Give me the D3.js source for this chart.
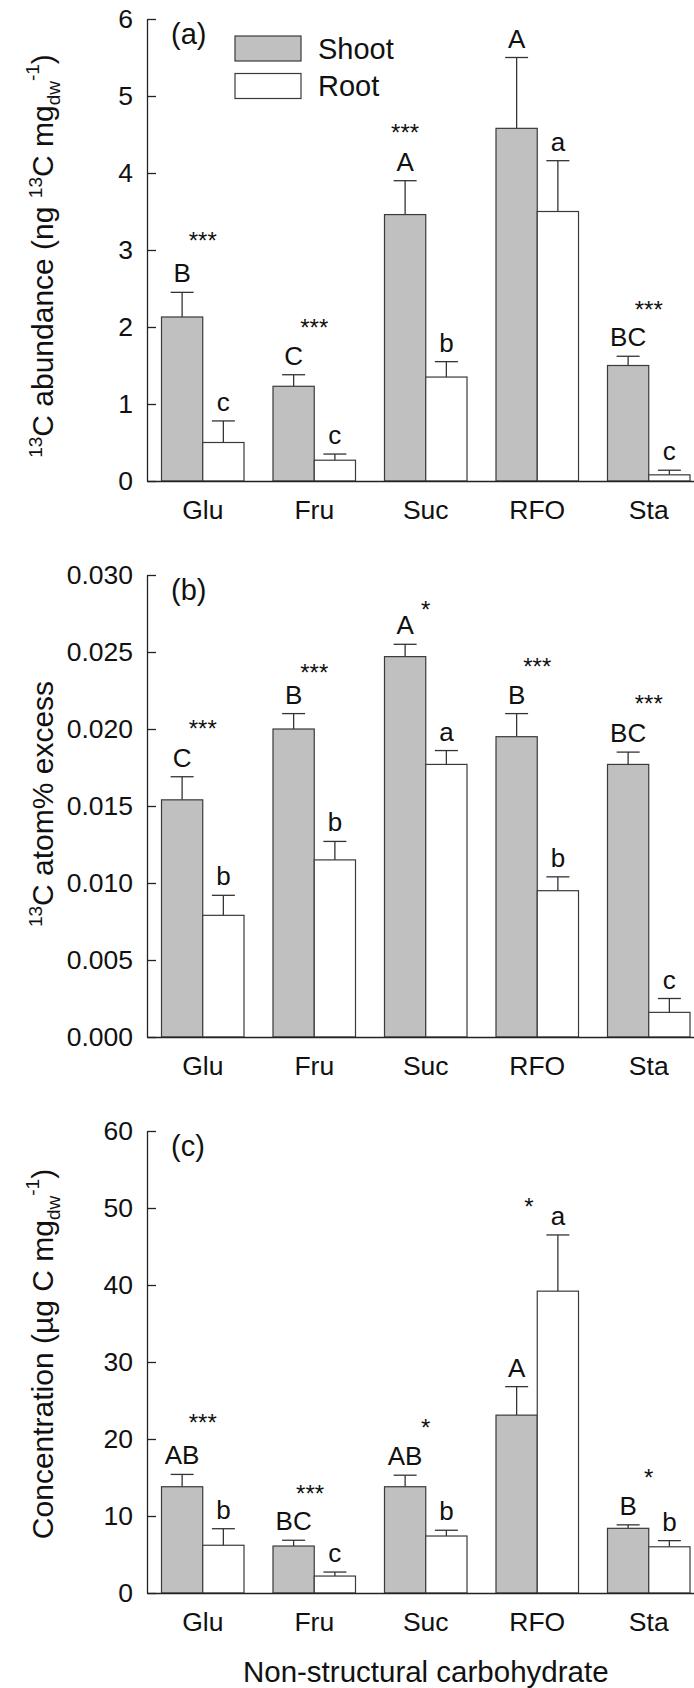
<!DOCTYPE html>
<html>
<head>
<meta charset="utf-8">
<script src="https://cdn.jsdelivr.net/npm/d3@7"></script>
<style>
  body { margin: 0; background: #fff; }
  svg { display: block; font-family: "Liberation Sans", Arial, sans-serif; }
</style>
</head>
<body>
<svg width="694" height="1688"></svg>
<script>
var categories = ["Glu", "Fru", "Suc", "RFO", "Sta"];
var series = ["Shoot", "Root"];

// (a) 13C abundance
var abundTicks = [0, 1, 2, 3, 4, 5, 6];
var abundShoot = [2.13, 1.23, 3.46, 4.58, 1.50];
var abundShootErr = [0.32, 0.15, 0.44, 0.92, 0.12];
var abundRoot = [0.50, 0.27, 1.35, 3.50, 0.08];
var abundRootErr = [0.28, 0.08, 0.20, 0.66, 0.06];
var abundShootLetters = ["B", "C", "A", "A", "BC"];
var abundRootLetters = ["c", "c", "b", "a", "c"];
var abundSig = ["***", "***", "***", "", "***"];
var abundSigY = [3.2, 2.06, 4.6, 0, 2.3];

// (b) 13C atom% excess
var excessTicks = [0, 0.005, 0.010, 0.015, 0.020, 0.025, 0.030];
var excessShoot = [0.0154, 0.0200, 0.0247, 0.0195, 0.0177];
var excessShootErr = [0.0015, 0.0010, 0.0008, 0.0015, 0.0008];
var excessRoot = [0.0079, 0.0115, 0.0177, 0.0095, 0.0016];
var excessRootErr = [0.0013, 0.0012, 0.0009, 0.0009, 0.0009];
var excessShootLetters = ["C", "B", "A", "B", "BC"];
var excessRootLetters = ["b", "b", "a", "b", "c"];
var excessSig = ["***", "***", "*", "***", "***"];
var excessSigY = [0.0204, 0.0240, 0.0281, 0.0244, 0.0220];

// (c) concentration
var concTicks = [0, 10, 20, 30, 40, 50, 60];
var concShoot = [13.8, 6.1, 13.8, 23.1, 8.4];
var concShootErr = [1.6, 0.75, 1.5, 3.7, 0.45];
var concRoot = [6.2, 2.2, 7.4, 39.2, 6.0];
var concRootErr = [2.15, 0.52, 0.75, 7.3, 0.8];
var concShootLetters = ["AB", "BC", "AB", "A", "B"];
var concRootLetters = ["b", "c", "b", "a", "b"];
var concSig = ["***", "***", "*", "*", "*"];
var concSigY = [22.8, 13.6, 22.2, 50.9, 15.7];

var svg = d3.select("svg"),
    left = 147,
    step = 111.5,
    panelH = 462;

var x = d3.scaleBand().domain(categories)
    .range([left, left + step * categories.length])
    .paddingInner(0.26).paddingOuter(0.13);
var xs = d3.scaleBand().domain(series).range([0, x.bandwidth()]);

function panel(opt) {
  var y = d3.scaleLinear().domain([0, d3.max(opt.ticks)])
      .range([opt.top + panelH, opt.top]);
  var g = svg.append("g");

  var rows = categories.map(function(c, i) {
    return {cat: c, i: i, vals: [
      {s: "Shoot", v: opt.shoot[i], e: opt.shootErr[i], l: opt.shootLetters[i]},
      {s: "Root", v: opt.root[i], e: opt.rootErr[i], l: opt.rootLetters[i]}
    ]};
  });

  var grp = g.selectAll(".grp").data(rows).enter().append("g")
      .attr("transform", function(d) { return "translate(" + x(d.cat) + ",0)"; });

  var bar = grp.selectAll(".bar").data(function(d) { return d.vals; }).enter().append("g");

  // error bars (upper half only)
  bar.append("line")
      .attr("x1", function(d) { return xs(d.s) + xs.bandwidth() / 2; })
      .attr("x2", function(d) { return xs(d.s) + xs.bandwidth() / 2; })
      .attr("y1", function(d) { return y(d.v); })
      .attr("y2", function(d) { return y(d.v + d.e); })
      .attr("stroke", "#333").attr("stroke-width", 1.3);
  bar.append("line")
      .attr("x1", function(d) { return xs(d.s) + xs.bandwidth() / 2 - 11.5; })
      .attr("x2", function(d) { return xs(d.s) + xs.bandwidth() / 2 + 11.5; })
      .attr("y1", function(d) { return y(d.v + d.e); })
      .attr("y2", function(d) { return y(d.v + d.e); })
      .attr("stroke", "#333").attr("stroke-width", 1.3);

  bar.append("rect")
      .attr("x", function(d) { return xs(d.s); })
      .attr("width", xs.bandwidth())
      .attr("y", function(d) { return y(d.v); })
      .attr("height", function(d) { return y(0) - y(d.v); })
      .attr("fill", function(d) { return d.s == "Shoot" ? "#c0c0c0" : "#fff"; })
      .attr("stroke", "#3a3a3a").attr("stroke-width", 1.2);

  bar.append("text")
      .attr("x", function(d) { return xs(d.s) + xs.bandwidth() / 2; })
      .attr("y", function(d) { return y(d.v + d.e) - 10; })
      .attr("text-anchor", "middle")
      .attr("font-size", 26)
      .attr("fill", "#111")
      .text(function(d) { return d.l; });

  // significance stars
  grp.append("text")
      .attr("x", function(d) { return x.bandwidth() / 2 + (opt.sigShift[d.i] || 0) * xs.bandwidth(); })
      .attr("y", function(d) { return y(opt.sigY[d.i]) + 14; })
      .attr("text-anchor", "middle")
      .attr("font-size", 24)
      .attr("fill", "#111")
      .text(function(d) { return opt.sig[d.i]; });

  // axes
  var ya = g.append("g")
      .attr("transform", "translate(" + left + ",0)")
      .call(d3.axisLeft(y).tickValues(opt.ticks).tickFormat(opt.fmt)
        .tickSizeInner(-9).tickSizeOuter(0).tickPadding(14));
  ya.selectAll("text").attr("font-size", 26.5).attr("fill", "#111");
  ya.selectAll("line, path").attr("stroke", "#222").attr("stroke-width", 1.3);

  var xa = g.append("g")
      .attr("transform", "translate(0," + y(0) + ")")
      .call(d3.axisBottom(x).tickSize(0).tickSizeOuter(0).tickPadding(19));
  xa.selectAll("text").attr("font-size", 26.5).attr("fill", "#111");
  xa.select(".domain").attr("stroke", "#222").attr("stroke-width", 1.5);

  g.append("text")
      .attr("x", 171).attr("y", opt.top + 25)
      .attr("font-size", 29).attr("fill", "#111")
      .text(opt.tag);

  // y title
  var t = g.append("text")
      .attr("transform", "translate(53," + (opt.top + panelH / 2 + opt.titleShift) + ") rotate(-90)")
      .attr("text-anchor", "middle")
      .attr("font-size", 30).attr("fill", "#111");
  opt.title.forEach(function(p) {
    var ts = t.append("tspan").text(p[0]);
    if (p[1]) ts.attr("dy", p[1]);
    if (p[2]) ts.attr("font-size", p[2]);
  });
  return y;
}

panel({
  top: 19, ticks: abundTicks, fmt: d3.format("d"), tag: "(a)",
  shoot: abundShoot, shootErr: abundShootErr, root: abundRoot, rootErr: abundRootErr,
  shootLetters: abundShootLetters, rootLetters: abundRootLetters,
  sig: abundSig, sigY: abundSigY, sigShift: [0, 0, -0.5, 0, 0], titleShift: 6,
  title: [["13", -11, 19], ["C abundance (ng ", 11], ["13", -11, 19], ["C mg", 11],
          ["dw", 7, 19], ["-1", -21, 19], [")", 14]]
});

panel({
  top: 575, ticks: excessTicks, fmt: d3.format(".3f"), tag: "(b)",
  shoot: excessShoot, shootErr: excessShootErr, root: excessRoot, rootErr: excessRootErr,
  shootLetters: excessShootLetters, rootLetters: excessRootLetters,
  sig: excessSig, sigY: excessSigY, sigShift: [0, 0, 0, 0, 0], titleShift: -2,
  title: [["13", -11, 19], ["C atom% excess", 11]]
});

panel({
  top: 1131, ticks: concTicks, fmt: d3.format("d"), tag: "(c)",
  shoot: concShoot, shootErr: concShootErr, root: concRoot, rootErr: concRootErr,
  shootLetters: concShootLetters, rootLetters: concRootLetters,
  sig: concSig, sigY: concSigY, sigShift: [0, -0.1, 0, -0.2, 0], titleShift: -8,
  title: [["Concentration (\u00b5g C mg"], ["dw", 7, 19], ["-1", -21, 19], [")", 14]]
});

// legend (panel a)
var legend = svg.append("g").selectAll("g").data(series).enter().append("g")
    .attr("transform", function(d, i) { return "translate(235," + (36 + i * 37.5) + ")"; });
legend.append("rect")
    .attr("width", 66).attr("height", 25)
    .attr("fill", function(d) { return d == "Shoot" ? "#c0c0c0" : "#fff"; })
    .attr("stroke", "#3a3a3a").attr("stroke-width", 1.2);
legend.append("text")
    .attr("x", 83).attr("y", 12.5).attr("dy", "0.35em")
    .attr("font-size", 29).attr("fill", "#111")
    .text(function(d) { return d; });

svg.append("text")
    .attr("x", x.range()[0] + (x.range()[1] - x.range()[0]) / 2)
    .attr("y", 1682)
    .attr("text-anchor", "middle")
    .attr("font-size", 29.5).attr("fill", "#111")
    .text("Non-structural carbohydrate");
</script>
</body>
</html>
